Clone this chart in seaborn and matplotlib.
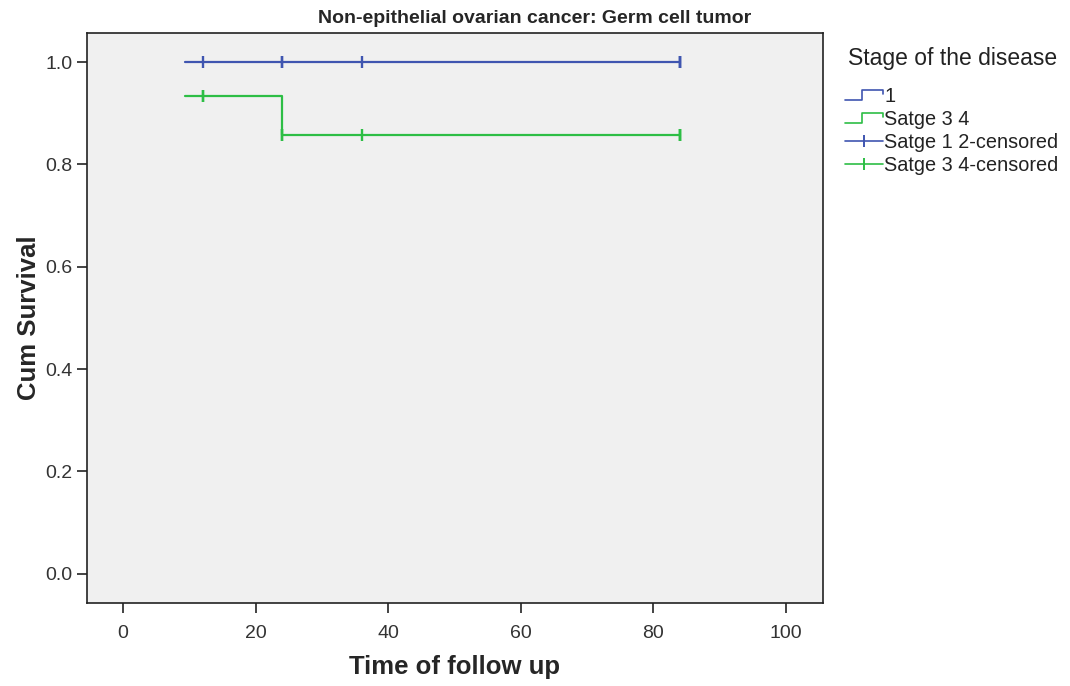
import pandas as pd
import matplotlib
matplotlib.use("Agg")
import matplotlib.pyplot as plt
import seaborn as sns
from matplotlib.lines import Line2D
from matplotlib.legend_handler import HandlerBase

# Kaplan-Meier step data
group_names = ["1", "Satge 3 4"]
blue_times = [9.3, 84]
blue_surv = [1.0, 1.0]
green_times = [9.3, 24, 84]
green_surv = [0.933, 0.857, 0.857]

# censored observations
blue_cens_times = [12, 24, 24, 36, 84, 84, 84]
blue_cens_surv = [1.0, 1.0, 1.0, 1.0, 1.0, 1.0, 1.0]
green_cens_times = [12, 12, 24, 24, 36, 84, 84, 84]
green_cens_surv = [0.933, 0.933, 0.857, 0.857, 0.857, 0.857, 0.857, 0.857]

legend_labels = ["1", "Satge 3 4", "Satge 1 2-censored", "Satge 3 4-censored"]

BLUE = "#3F55B0"
GREEN = "#2DBE45"

sns.set_style("ticks")
plt.rcParams["font.family"] = ["Liberation Sans", "DejaVu Sans"]

steps = pd.concat([
    pd.DataFrame({"time": blue_times, "surv": blue_surv, "grp": group_names[0]}),
    pd.DataFrame({"time": green_times, "surv": green_surv, "grp": group_names[1]}),
])
cens = pd.concat([
    pd.DataFrame({"time": blue_cens_times, "surv": blue_cens_surv, "grp": "b"}),
    pd.DataFrame({"time": green_cens_times, "surv": green_cens_surv, "grp": "g"}),
])

fig = plt.figure(figsize=(10.7, 6.86), dpi=100)
ax = fig.add_axes([0.081, 0.121, 0.688, 0.831])
ax.set_facecolor("#F0F0F0")

sns.lineplot(data=steps, x="time", y="surv", hue="grp",
             palette={group_names[0]: BLUE, group_names[1]: GREEN},
             drawstyle="steps-post", linewidth=1.6, legend=False, ax=ax,
             estimator=None, sort=False)
sns.scatterplot(data=cens, x="time", y="surv", hue="grp",
                palette={"b": BLUE, "g": GREEN}, marker="|", s=75,
                linewidth=1.7, legend=False, ax=ax)

ax.set_xlim(-5.5, 105.6)
ax.set_ylim(-0.057, 1.057)
ax.set_xticks([0, 20, 40, 60, 80, 100])
ax.set_yticks([0.0, 0.2, 0.4, 0.6, 0.8, 1.0])
ax.set_yticklabels(["0.0", "0.2", "0.4", "0.6", "0.8", "1.0"])
ax.tick_params(axis="both", labelsize=14, length=7, width=1.2, color="#222222",
               labelcolor="#333333")
ax.tick_params(axis="x", pad=9)
ax.tick_params(axis="y", pad=3)
for sp in ax.spines.values():
    sp.set_linewidth(1.2)
    sp.set_color("#222222")

ax.set_xlabel("Time of follow up", fontsize=18.5, fontweight="bold", labelpad=9)
ax.set_ylabel("Cum Survival", fontsize=18.5, fontweight="bold", labelpad=3)
fig.suptitle("Non-epithelial ovarian cancer: Germ cell tumor", x=0.5, y=0.985,
             fontsize=14, fontweight="bold", va="top")


class StepHandler(HandlerBase):
    def create_artists(self, legend, orig_handle, xd, yd, width, height, fontsize, trans):
        c = orig_handle.get_color()
        xs = [xd, xd + width * 0.45, xd + width * 0.45, xd + width, xd + width]
        ys = [yd + height * 0.15, yd + height * 0.15, yd + height * 0.9,
              yd + height * 0.9, yd + height * 0.6]
        ln = Line2D(xs, ys, color=c, lw=1.2, transform=trans)
        return [ln]


handles = [
    Line2D([], [], color=BLUE),
    Line2D([], [], color=GREEN),
    Line2D([], [], color=BLUE, lw=1.2, marker="|", markersize=9, markeredgewidth=1.4),
    Line2D([], [], color=GREEN, lw=1.2, marker="|", markersize=9, markeredgewidth=1.4),
]
fig.text(848 / 1070, 1 - 58 / 686, "Stage of the disease", fontsize=16.5,
         color="#222222", ha="left", va="center")
leg = fig.legend(handles, legend_labels,
                 loc="upper left", bbox_to_anchor=(0.7895, 0.873),
                 frameon=False, fontsize=14.3,
                 handlelength=1.9, handletextpad=0.1, labelspacing=0.2,
                 borderpad=0, borderaxespad=0,
                 handler_map={handles[0]: StepHandler(), handles[1]: StepHandler()})
for t in leg.get_texts():
    t.set_color("#222222")

fig.savefig("out.png", dpi=100)
